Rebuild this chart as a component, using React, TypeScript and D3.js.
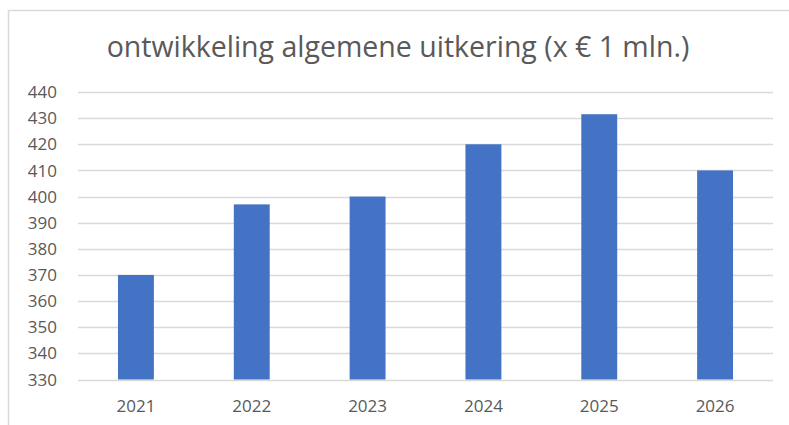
import React from "react";
import * as d3 from "d3";

const title = "ontwikkeling algemene uitkering (x € 1 mln.)";
const years = ["2021", "2022", "2023", "2024", "2025", "2026"];
const values = [370, 397, 400, 420, 431.5, 410];
const yTicks = [330, 340, 350, 360, 370, 380, 390, 400, 410, 420, 430, 440];

const W = 789;
const H = 425;

export default function App() {
  const x = d3.scaleBand<string>().domain(years).range([78, 773]).paddingInner(0.69).paddingOuter(0.345);
  const y = d3.scaleLinear().domain([330, 440]).range([379.5, 92]);
  const font = "'Open Sans', sans-serif";
  return (
    <svg width={W} height={H} style={{ position: "absolute", left: 0, top: 0, background: "#fff" }}>
      <rect x={8.5} y={10.5} width={900} height={600} fill="#fff" stroke="#d9d9d9" strokeWidth={1.5} />
      <text x={398} y={57} textAnchor="middle" fontFamily={font} fontSize={28.5} fill="#595959">
        {title}
      </text>
      {yTicks.map((t) => (
        <g key={t}>
          <line x1={78} x2={773} y1={Math.round(y(t)) + 0.5} y2={Math.round(y(t)) + 0.5} stroke="#d9d9d9" strokeWidth={1.3} />
          <text x={57} y={y(t)} dy="0.36em" textAnchor="end" fontFamily={font} fontSize={17} fill="#595959">
            {t}
          </text>
        </g>
      ))}
      {years.map((yr, i) => (
        <rect key={yr} x={x(yr)} y={y(values[i])} width={x.bandwidth()} height={y(330) - y(values[i])} fill="#4472c4" />
      ))}
      {years.map((yr) => (
        <text key={yr} x={(x(yr) as number) + x.bandwidth() / 2} y={412} textAnchor="middle" fontFamily={font} fontSize={17} fill="#595959">
          {yr}
        </text>
      ))}
    </svg>
  );
}
